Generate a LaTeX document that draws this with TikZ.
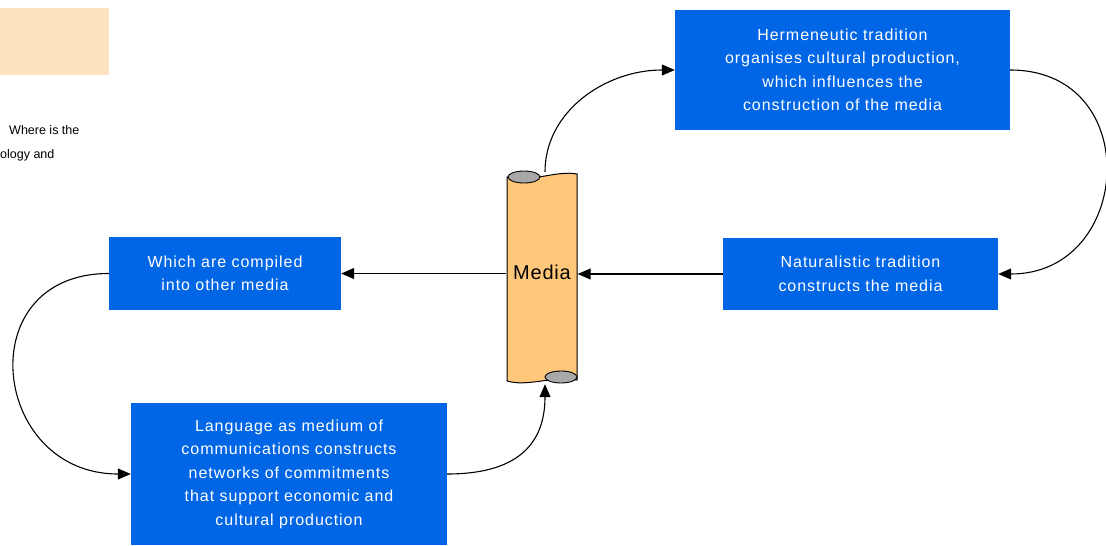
\documentclass[tikz,border=0pt]{standalone}
\usepackage{fontspec}
\setmainfont{Liberation Sans}
\usetikzlibrary{arrows.meta}

\definecolor{boxblue}{RGB}{0,102,230}
\definecolor{scrollorange}{RGB}{255,199,122}
\definecolor{notepeach}{RGB}{253,227,192}
\definecolor{curlgray}{RGB}{168,168,168}

\newcommand{\boxfont}{\fontsize{16}{23.5}\selectfont\addfontfeature{LetterSpace=6}}
\newcommand{\mediafont}{\fontsize{20}{24}\selectfont\addfontfeature{LetterSpace=4}}
\newcommand{\notefont}{\fontsize{12.5}{25}\selectfont}

\tikzset{
  stepbox/.style={fill=boxblue, text=white, align=center, inner sep=0pt, font=\boxfont},
  link/.style={line width=1.1pt, -{Triangle[length=13pt,width=11pt]}},
}

\begin{document}
\begin{tikzpicture}[x=1pt,y=1pt,yscale=-1,xscale=1]
  \useasboundingbox (0,0) rectangle (1106,546);

  % note in the corner
  \node[fill=notepeach, minimum width=109pt, minimum height=67pt, inner sep=0pt, anchor=north west] (note) at (0,8) {};
  \node[anchor=west, inner sep=0pt, font=\notefont] (ask) at (9,130) {Where is the};
  \node[anchor=west, inner sep=0pt, font=\notefont] (askb) at (0,155) {ology and};

  % boxes
  \node[stepbox, minimum width=335pt, minimum height=120pt] (herm) at (842.5,70)
    {Hermeneutic tradition\\organises cultural production,\\which influences the\\construction of the media};
  \node[stepbox, minimum width=275pt, minimum height=72pt] (nat) at (860.5,274)
    {Naturalistic tradition\\constructs the media};
  \node[stepbox, minimum width=232pt, minimum height=73pt] (which) at (225,273.5)
    {Which are compiled\\into other media};
  \node[stepbox, minimum width=316pt, minimum height=142pt] (lang) at (289,474)
    {Language as medium of\\communications constructs\\networks of commitments\\that support economic and\\cultural production};

  % the media scroll
  \node[minimum width=71pt, minimum height=212pt, inner sep=0pt] (media) at (542,278) {};
  \draw[line width=1pt, fill=scrollorange] (507,177) -- (507,381)
    .. controls (528,387) and (550,376) .. (577,380) -- (577,174)
    .. controls (556,170) and (532,183) .. cycle;
  \draw[line width=0.9pt, fill=curlgray] (524,177) ellipse (16 and 6);
  \draw[line width=0.9pt, fill=curlgray] (561,377) ellipse (16 and 6);
  \node[font=\mediafont] (medialabel) at ([yshift=-6pt]media.center) {Media};

  % links
  \draw[link] (nat.west) -- (media.east |- nat.west);
  \draw[link] (media.west |- which.east) -- (which.east);
  \draw[link] ([xshift=3pt]media.north) .. controls +(0,-60) and +(-70,0) .. (herm.west);
  \draw[link] (herm.east) .. controls +(135,0) and +(135,0) .. (nat.east);
  \draw[link] (which.west) .. controls +(-140,0) and +(-140,0) .. (lang.west);
  \draw[link] (lang.east) .. controls +(70,0) and +(0,60) .. ([xshift=3pt]media.south);
\end{tikzpicture}
\end{document}
